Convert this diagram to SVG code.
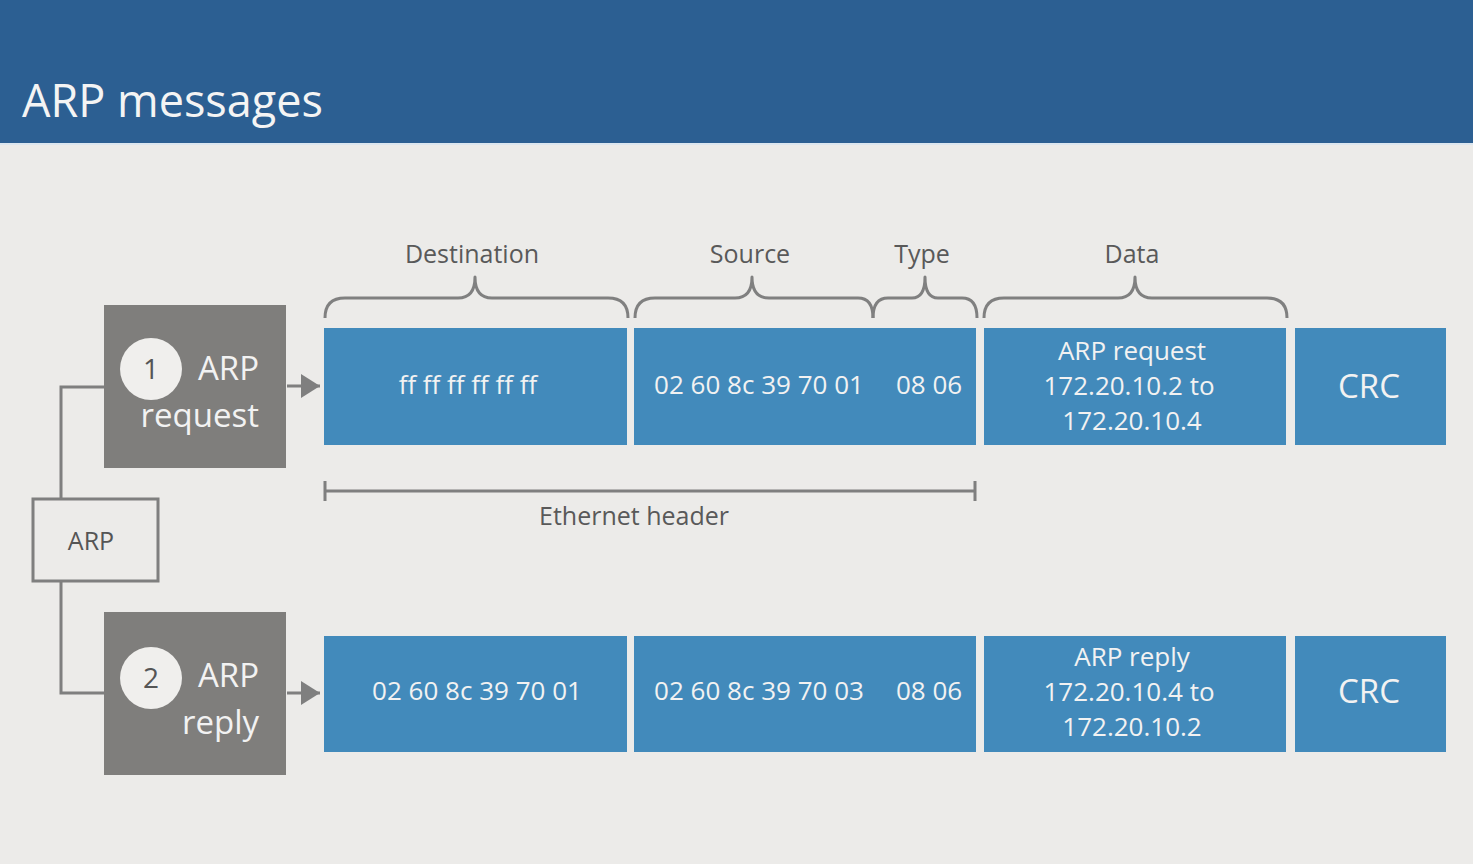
<svg xmlns="http://www.w3.org/2000/svg" width="1473" height="864" viewBox="0 0 1473 864">
<defs>
<style>
.t{font-family:"Open Sans","Liberation Sans",sans-serif}
.blue{fill:#428abb}
.gray{fill:#7f7e7c}
.w{fill:#f2f2f2}
.lbl{fill:#595959;font-size:25px}
.br{fill:none;stroke:#808080;stroke-width:3;stroke-linejoin:round}
.ln{fill:none;stroke:#7f7f7f;stroke-width:3}
</style>
<marker id="ah" viewBox="0 0 19 24" refX="19" refY="12" markerWidth="19" markerHeight="24" markerUnits="userSpaceOnUse" orient="auto"><path d="M0,0 L19,12 L0,24 Z" fill="#7f7f7f"/></marker>
</defs>
<rect width="1473" height="864" fill="#ecebe9"/>
<rect width="1473" height="143" fill="#2c5f92"/>
<rect y="143" width="1473" height="2" fill="#dce6ef"/>
<text class="t" x="22" y="117" font-size="45" fill="#f4f4f4">ARP messages</text>

<g id="connectors">
<path class="ln" d="M61,499 V387 H104"/>
<path class="ln" d="M61,581 V693 H104"/>
<line class="ln" x1="287" y1="386" x2="320" y2="386" marker-end="url(#ah)"/>
<line class="ln" x1="287" y1="693" x2="320" y2="693" marker-end="url(#ah)"/>
</g>

<g id="arp">
<rect x="33" y="499" width="125" height="82" fill="#ecebe9" stroke="#7f7f7f" stroke-width="3"/>
<text class="t" x="91" y="550" font-size="25" fill="#555" text-anchor="middle">ARP</text>
</g>

<g id="req">
<rect class="gray" x="104" y="305" width="182" height="163"/>
<circle cx="151" cy="369" r="31" fill="#f0efed"/>
<text class="t" x="151" y="379" font-size="28" fill="#555" text-anchor="middle">1</text>
<text class="t w" x="259" y="380" font-size="33" text-anchor="end">ARP</text>
<text class="t w" x="259" y="427" font-size="33" text-anchor="end">request</text>
</g>

<g id="rep">
<rect class="gray" x="104" y="612" width="182" height="163"/>
<circle cx="151" cy="678" r="31" fill="#f0efed"/>
<text class="t" x="151" y="688" font-size="28" fill="#555" text-anchor="middle">2</text>
<text class="t w" x="259" y="687" font-size="33" text-anchor="end">ARP</text>
<text class="t w" x="259" y="734" font-size="33" text-anchor="end">reply</text>
</g>

<g id="labels">
<text class="t lbl" x="472" y="263" text-anchor="middle">Destination</text>
<text class="t lbl" x="750" y="263" text-anchor="middle">Source</text>
<text class="t lbl" x="922" y="263" text-anchor="middle">Type</text>
<text class="t lbl" x="1132" y="263" text-anchor="middle">Data</text>
<path class="br" d="M325,318 Q325,298 345,298 L458,298 Q475,298 475,277 Q475,298 492,298 L608,298 Q628,298 628,318"/>
<path class="br" d="M635,318 Q635,298 655,298 L735,298 Q752,298 752,277 Q752,298 769,298 L858,298 Q873,298 873,318"/>
<path class="br" d="M873,318 Q873,298 888,298 L912,298 Q925,298 925,277 Q925,298 938,298 L962,298 Q977,298 977,318"/>
<path class="br" d="M984,318 Q984,298 1004,298 L1118,298 Q1135,298 1135,277 Q1135,298 1152,298 L1267,298 Q1287,298 1287,318"/>
</g>

<g id="row1">
<rect class="blue" x="324" y="328" width="303" height="117"/>
<rect class="blue" x="634" y="328" width="342" height="117"/>
<rect class="blue" x="984" y="328" width="302" height="117"/>
<rect class="blue" x="1295" y="328" width="151" height="117"/>
<g class="t w" font-size="26" text-anchor="middle">
<text x="468" y="394">ff ff ff ff ff ff</text>
<text x="759" y="394">02 60 8c 39 70 01</text>
<text x="929" y="394">08 06</text>
<text x="1132" y="360">ARP request</text>
<text x="1129" y="395">172.20.10.2 to</text>
<text x="1132" y="430">172.20.10.4</text>
<text x="1369" y="398" font-size="33">CRC</text>
</g>
</g>

<g id="ethhdr">
<path class="ln" d="M325,481 V501 M325,491 H975 M975,481 V501"/>
<text class="t lbl" x="634" y="525" text-anchor="middle">Ethernet header</text>
</g>

<g id="row2">
<rect class="blue" x="324" y="636" width="303" height="116"/>
<rect class="blue" x="634" y="636" width="342" height="116"/>
<rect class="blue" x="984" y="636" width="302" height="116"/>
<rect class="blue" x="1295" y="636" width="151" height="116"/>
<g class="t w" font-size="26" text-anchor="middle">
<text x="477" y="700">02 60 8c 39 70 01</text>
<text x="759" y="700">02 60 8c 39 70 03</text>
<text x="929" y="700">08 06</text>
<text x="1132" y="666">ARP reply</text>
<text x="1129" y="701">172.20.10.4 to</text>
<text x="1132" y="736">172.20.10.2</text>
<text x="1369" y="703" font-size="33">CRC</text>
</g>
</g>
</svg>
